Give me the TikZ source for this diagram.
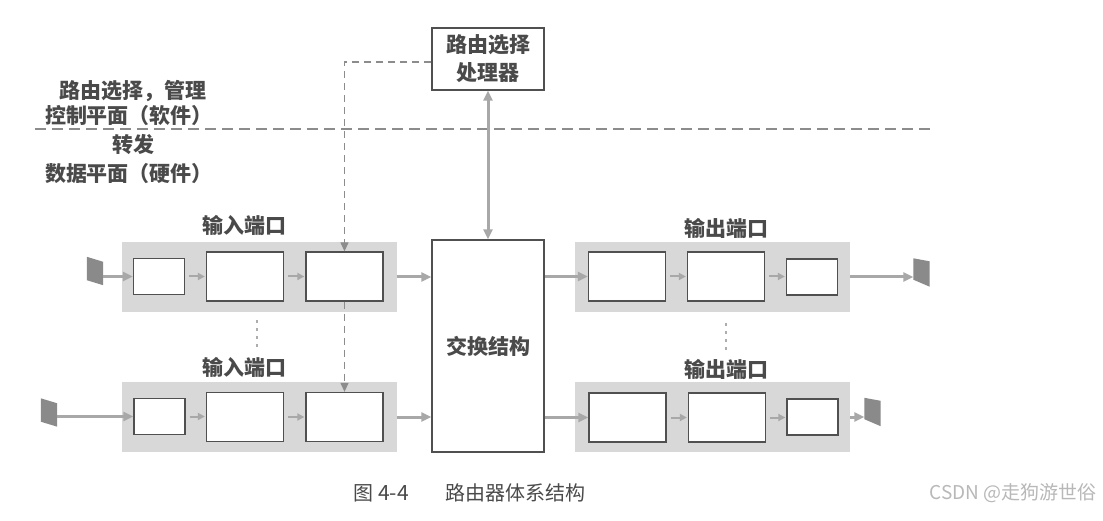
\documentclass[tikz,border=0pt]{standalone}
\usepackage{fontspec}
\newfontfamily\cjk{Noto Sans CJK SC}
\usetikzlibrary{arrows.meta}
\definecolor{portgray}{HTML}{D8D8D8}
\definecolor{boxline}{HTML}{505050}
\definecolor{arrgray}{HTML}{A8A8A8}
\definecolor{dashgray}{HTML}{8C8C8C}
\definecolor{txtgray}{HTML}{4A4A4A}
\definecolor{devgray}{HTML}{8A8A8A}
\definecolor{wmgray}{HTML}{B8B8B8}
\begin{document}
\begin{tikzpicture}[x=1pt,y=-1pt,
  port/.style={fill=portgray, draw=none, minimum width=275pt, minimum height=70pt, inner sep=0pt},
  bigbox/.style={draw=boxline, line width=1.3pt, fill=white, minimum width=77pt, minimum height=49pt, inner sep=0pt},
  smallbox/.style={draw=boxline, line width=1.3pt, fill=white, minimum width=51pt, minimum height=36pt, inner sep=0pt},
  bigblock/.style={draw=boxline, line width=1.2pt, fill=white, minimum width=112pt, inner sep=0pt, font=\cjk\bfseries\fontsize{21}{28}\selectfont, text=txtgray, align=center},
  devnode/.style={draw=none, minimum width=16pt, minimum height=28pt, inner sep=0pt},
  lbl/.style={font=\cjk\bfseries\fontsize{21}{24}\selectfont, text=txtgray, inner sep=0pt},
  mainarr/.style={draw=arrgray, line width=3pt, -{Triangle[length=10pt,width=9pt]}},
  inarr/.style={draw=arrgray, line width=2pt, -{Triangle[length=7pt,width=7pt]}, shorten <=4pt, shorten >=1pt},
  dblarr/.style={draw=arrgray, line width=3pt, {Triangle[length=10pt,width=9pt]}-{Triangle[length=10pt,width=9pt]}},
  dashconn/.style={draw=dashgray, line width=1.2pt, dash pattern=on 7pt off 5pt, -{Triangle[length=9pt,width=8pt]}},
  divider/.style={draw=dashgray, line width=2pt, dash pattern=on 11pt off 6pt},
  dotline/.style={draw=portgray!80!black, line width=2.5pt, dash pattern=on 3pt off 5pt}
]
\useasboundingbox[fill=white] (0,0) rectangle (1103,521);

% control plane
\node[bigblock, minimum height=62pt] (proc) at (488,59) {路由选择\\处理器};
\coordinate (div1) at (35,129);
\coordinate (div2) at (930,129);
\draw[divider] (div1) -- (div2);
\node[lbl] (t1) at (133,91) {路由选择，管理};
\node[lbl] (t2) at (129,116) {控制平面（软件）};
\node[lbl] (t3) at (133,145) {转发};
\node[lbl] (t4) at (129,174) {数据平面（硬件）};

% switch fabric
\node[bigblock, minimum height=212pt] (sw) at (488,346) {交换结构};

% ports
\node[port] (ip1) at (259,277) {};
\node[port] (ip2) at (259,417) {};
\node[port] (op1) at (712.5,277) {};
\node[port] (op2) at (712.5,417) {};
\node[lbl] (lip1) at (244,225) {输入端口};
\node[lbl] (lip2) at (244,367) {输入端口};
\node[lbl] (lop1) at (726,228) {输出端口};
\node[lbl] (lop2) at (726,369) {输出端口};

% input boxes
\node[smallbox] (ia1) at (159,276.5) {};
\node[bigbox] (ia2) at (245,276.5) {};
\node[bigbox] (ia3) at (344.5,276.5) {};
\node[smallbox] (ib1) at (159.5,416.5) {};
\node[bigbox] (ib2) at (245,417) {};
\node[bigbox] (ib3) at (344.5,417) {};
% output boxes
\node[bigbox] (oa4) at (627,276.5) {};
\node[bigbox] (oa5) at (726,276.5) {};
\node[smallbox] (oa6) at (812,277) {};
\node[bigbox] (ob4) at (627.5,417.5) {};
\node[bigbox] (ob5) at (727,417.5) {};
\node[smallbox] (ob6) at (812.5,417) {};

% devices
\node[devnode] (din1) at (95,271) {};
\node[devnode] (din2) at (49,412.5) {};
\node[devnode] (dout1) at (921.5,272.5) {};
\node[devnode] (dout2) at (872.5,412) {};
\foreach \d in {din1,din2}{
  \fill[devgray] (\d.north west) -- ([yshift=-5pt]\d.north east) -- (\d.south east) -- ([yshift=5pt]\d.south west) -- cycle;
}
\foreach \d in {dout1,dout2}{
  \fill[devgray] (\d.north west) -- ([yshift=-3pt]\d.north east) -- (\d.south east) -- ([yshift=7pt]\d.south west) -- cycle;
}

% data path arrows
\draw[mainarr] (din1.east |- ia1.west) -- (ia1.west);
\draw[mainarr] (din2.east |- ib1.west) -- (ib1.west);
\draw[inarr] (ia1.east) -- (ia2.west);
\draw[inarr] (ia2.east) -- (ia3.west);
\draw[inarr] (ib1.east) -- (ib2.west |- ib1.east);
\draw[inarr] (ib2.east) -- (ib3.west);
\draw[mainarr] (ip1.east) -- (ip1.east -| sw.west);
\draw[mainarr] (ip2.east) -- (ip2.east -| sw.west);
\draw[mainarr] (sw.east |- oa4.west) -- (oa4.west);
\draw[mainarr] (sw.east |- ob4.west) -- (ob4.west);
\draw[inarr] (oa4.east) -- (oa5.west);
\draw[inarr] (oa5.east) -- (oa6.west |- oa5.east);
\draw[inarr] (ob4.east) -- (ob5.west);
\draw[inarr] (ob5.east) -- (ob6.west |- ob5.east);
\draw[mainarr] (op1.east) -- (op1.east -| dout1.west);
\draw[mainarr] (op2.east) -- (op2.east -| dout2.west);

% control connections
\draw[dblarr] (proc.south) -- (sw.north);
\draw[dashconn] ([yshift=-3pt]proc.west) -| (ia3.north);
\draw[dashconn] (ia3.south) -- (ib3.north);

% ellipsis dots
\coordinate (e1a) at (257,320);
\coordinate (e1b) at (257,348);
\coordinate (e2a) at (726,323);
\coordinate (e2b) at (726,351);
\draw[dotline] (e1a) -- (e1b);
\draw[dotline] (e2a) -- (e2b);

% caption
\node[font=\cjk\fontsize{20}{24}\selectfont, text=txtgray, anchor=west, inner sep=0pt] (cap1) at (353,493) {图};
\node[font=\cjk\fontsize{21}{24}\selectfont, text=txtgray, anchor=west, inner sep=0pt] (cap2) at (378,493) {4-4};
\node[font=\cjk\fontsize{20}{24}\selectfont, text=txtgray, anchor=west, inner sep=0pt] (cap3) at (445,493) {路由器体系结构};
\node[font=\cjk\fontsize{19}{24}\selectfont, text=wmgray, anchor=east, inner sep=0pt] (wm) at (1097,493) {CSDN @走狗游世俗};
\end{tikzpicture}
\end{document}
